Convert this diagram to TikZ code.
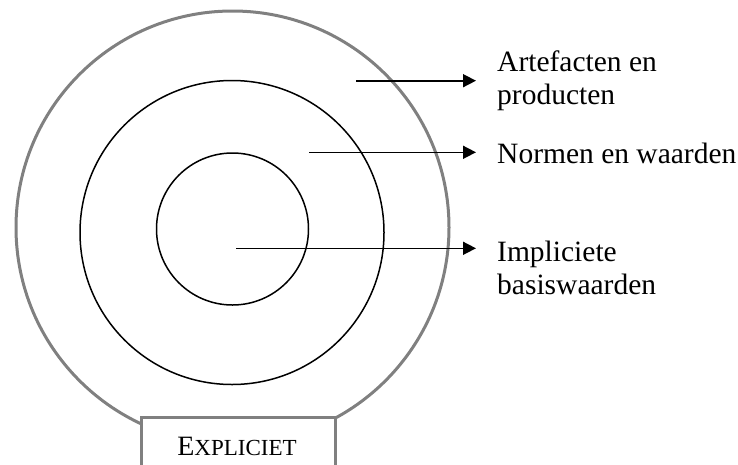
\documentclass[tikz,border=0pt]{standalone}
\usepackage{fontspec}
\setmainfont{Liberation Serif}
\usetikzlibrary{arrows.meta}
\definecolor{ringgray}{RGB}{128,128,128}
\begin{document}
\begin{tikzpicture}[x=1pt,y=-1pt,
  ring/.style={draw=black,line width=1.5pt},
  outerring/.style={draw=ringgray,line width=3pt},
  pointer/.style={line width=1.6pt,-{Triangle[length=13pt,width=13pt]}},
  lbl/.style={anchor=base west,inner sep=0pt,font=\fontsize{29.5}{33}\selectfont},
  tag/.style={draw=ringgray,line width=2.5pt,fill=white,minimum width=194pt,minimum height=80pt,anchor=north west,inner sep=0pt}]
\useasboundingbox (0,0) rectangle (738,464);
\clip (0,0) rectangle (738,464);
% rings
\node[outerring,circle,minimum size=433pt,inner sep=0pt] (outer) at (232.5,227.5) {};
\node[ring,circle,minimum size=304pt,inner sep=0pt] (middle) at (232,232.5) {};
\node[ring,circle,minimum size=152pt,inner sep=0pt] (inner) at (232.5,229) {};
% bottom box
\node[tag] (box) at (140,416) {};
\node[anchor=base,inner sep=0pt] (boxtxt) at (237,455) {\fontsize{28}{30}\selectfont E\fontsize{23}{30}\selectfont XPLICIET};
% labels
\node[lbl] (art1) at (497,71.7) {Artefacten en};
\node[lbl] (art2) at (497,104.7) {producten};
\node[lbl] (norm) at (497,163) {Normen en waarden};
\node[lbl] (imp1) at (497,261.7) {Impliciete};
\node[lbl] (imp2) at (497,294.7) {basiswaarden};
% arrows
\coordinate (s1) at (356,80.7);
\coordinate (e1) at (476,80.7);
\coordinate (s2) at (309,152.3);
\coordinate (e2) at (476,152.3);
\coordinate (s3) at (236,248.3);
\coordinate (e3) at (476,248.3);
\draw[pointer] (s1) -- (e1);
\draw[pointer] (s2) -- (e2);
\draw[pointer] (s3) -- (e3);
\end{tikzpicture}
\end{document}
